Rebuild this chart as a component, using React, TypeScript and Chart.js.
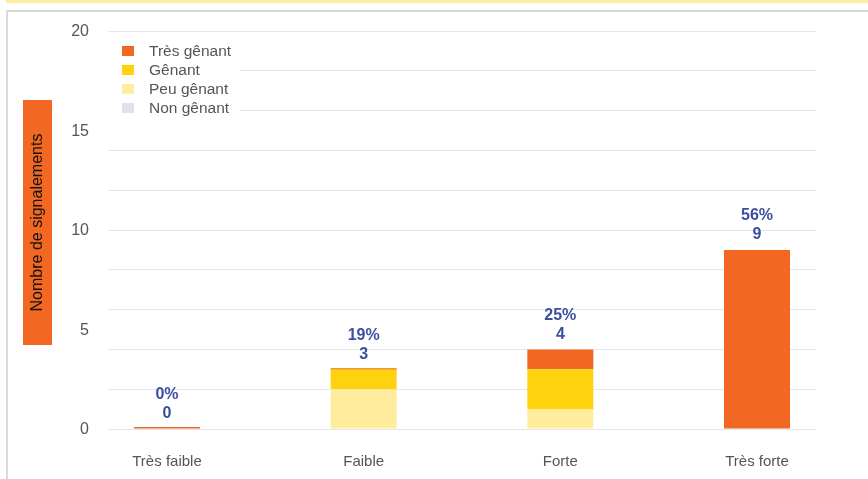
import React, { useEffect, useRef } from "react";
import { Chart, registerables } from "chart.js";

Chart.register(...registerables);

const categories = ["Très faible", "Faible", "Forte", "Très forte"];
const nonGenant = [0, 0, 0, 0];
const peuGenant = [0, 2, 1, 0];
const genant = [0, 1, 2, 0];
const tresGenant = [0, 0, 1, 9];
const totals = [0, 3, 4, 9];
const percentLabels = ["0%", "19%", "25%", "56%"];
const yTickLabels = [0, 5, 10, 15, 20];
const legendNames = ["Très gênant", "Gênant", "Peu gênant", "Non gênant"];
const axisTitle = "Nombre de signalements";

const COLORS = {
  tres: "#f26722",
  genant: "#ffd20f",
  peu: "#ffec9c",
  non: "#dee2ea",
};
const legendColors = [COLORS.tres, COLORS.genant, COLORS.peu, COLORS.non];
const FONT = "'Liberation Sans', Arial, Helvetica, sans-serif";
const TEXT = "#555555";
const LABEL_BLUE = "#3b4f9f";

const overlayPlugin = {
  id: "overlay",
  afterDatasetsDraw(chart: any) {
    const ctx = chart.ctx;
    const xs = chart.scales.x;
    const ys = chart.scales.y;
    const area = chart.chartArea;
    ctx.save();
    // value labels
    ctx.fillStyle = LABEL_BLUE;
    ctx.font = `bold 16px ${FONT}`;
    ctx.textAlign = "center";
    ctx.textBaseline = "middle";
    totals.forEach((t, i) => {
      const x = xs.getPixelForValue(i);
      const top = ys.getPixelForValue(t);
      ctx.fillText(percentLabels[i], x, top - 34);
      ctx.fillText(String(t), x, top - 15);
    });
    // legend
    const lx = area.left;
    const ly = area.top + 4;
    ctx.fillStyle = "#ffffff";
    ctx.fillRect(lx, ly, 132, 81);
    ctx.font = `15.5px ${FONT}`;
    ctx.textAlign = "left";
    legendNames.forEach((name, i) => {
      const cy = area.top + 20 + i * 19;
      ctx.fillStyle = legendColors[i];
      ctx.fillRect(lx + 14, cy - 5, 12, 10);
      ctx.fillStyle = TEXT;
      ctx.fillText(name, lx + 41, cy + 1);
    });
    // axis title box
    const bx = 23;
    const bTop = area.top + 69;
    const bBottom = area.bottom - 84;
    ctx.fillStyle = COLORS.tres;
    ctx.fillRect(bx, bTop, 29, bBottom - bTop);
    ctx.translate(bx + 14.5, (bTop + bBottom) / 2);
    ctx.rotate(-Math.PI / 2);
    ctx.fillStyle = "#111111";
    ctx.font = `16px ${FONT}`;
    ctx.textAlign = "center";
    ctx.textBaseline = "middle";
    ctx.fillText(axisTitle, 0, 0);
    ctx.restore();
  },
};

const toPoints = (arr: number[]) => arr.map((v, i) => ({ x: i, y: v }));

export default function App() {
  const canvasRef = useRef<HTMLCanvasElement | null>(null);

  useEffect(() => {
    document.body.style.margin = "0";
    const canvas = canvasRef.current;
    if (!canvas) return;
    const chart = new Chart(canvas, {
      type: "bar",
      data: {
        datasets: [
          { label: "Non gênant", data: toPoints(nonGenant) as any, backgroundColor: COLORS.non },
          { label: "Peu gênant", data: toPoints(peuGenant) as any, backgroundColor: COLORS.peu },
          { label: "Gênant", data: toPoints(genant) as any, backgroundColor: COLORS.genant },
          { label: "Très gênant", data: toPoints(tresGenant) as any, backgroundColor: COLORS.tres, minBarLength: 2 },
        ],
      },
      options: {
        animation: false,
        responsive: false,
        maintainAspectRatio: false,
        barThickness: 66,
        borderWidth: 0,
        inflateAmount: 0,
        layout: { padding: { left: 0, top: 31, right: 52, bottom: 0 } },
        plugins: {
          legend: { display: false },
          tooltip: { enabled: false },
        },
        scales: {
          x: {
            type: "linear",
            stacked: true,
            offset: false,
            min: -0.3,
            max: 3.3,
            grid: { display: false, offset: false },
            border: { display: false },
            afterBuildTicks: (s: any) => {
              s.ticks = categories.map((_, i) => ({ value: i }));
            },
            afterFit: (s: any) => {
              s.height = 50;
            },
            ticks: {
              autoSkip: false,
              maxRotation: 0,
              padding: 16,
              color: TEXT,
              font: { family: FONT, size: 15 },
              callback: (v: any) => categories[v] ?? "",
            },
          },
          y: {
            stacked: true,
            min: 0,
            max: 20,
            border: { display: false },
            grid: {
              drawTicks: false,
              lineWidth: 1,
              color: (c: any) =>
                c.tick && c.tick.value % 2 === 0 ? "#e4e5ee" : "rgba(0,0,0,0)",
            },
            afterFit: (s: any) => {
              s.width = 108;
            },
            ticks: {
              stepSize: 1,
              autoSkip: false,
              padding: 19,
              labelOffset: 1,
              color: TEXT,
              font: { family: FONT, size: 16 },
              callback: (v: any) => (yTickLabels.includes(v) ? String(v) : ""),
            },
          },
        },
      } as any,
      plugins: [overlayPlugin],
    });
    return () => chart.destroy();
  }, []);

  return (
    <div style={{ position: "relative", width: 868, height: 479, overflow: "hidden", background: "#fff" }}>
      <div style={{ position: "absolute", left: 6, top: 0, right: 0, height: 3, background: "#fdee9f" }} />
      <div
        style={{
          position: "absolute",
          left: 6,
          top: 10,
          right: 0,
          bottom: 0,
          borderLeft: "2px solid #dadada",
          borderTop: "2px solid #dadada",
        }}
      />
      <canvas
        ref={canvasRef}
        width={868}
        height={479}
        style={{ position: "absolute", left: 0, top: 0, width: 868, height: 479 }}
      />
    </div>
  );
}
